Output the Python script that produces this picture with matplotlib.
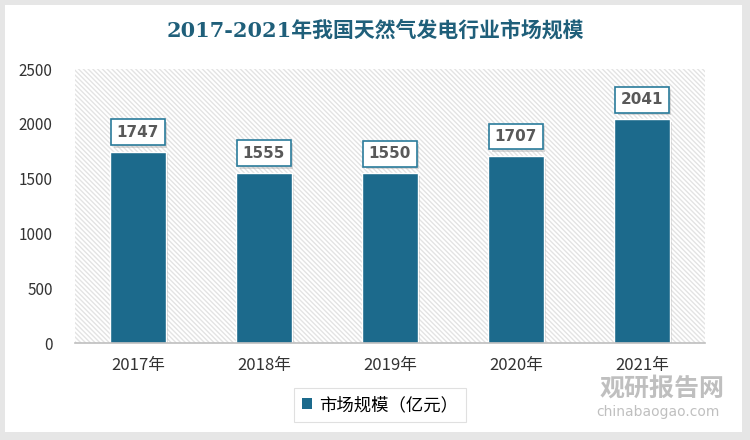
import matplotlib
matplotlib.use('Agg')
import matplotlib.pyplot as plt
import matplotlib.patheffects as pe
from matplotlib.patches import Rectangle

plt.rcParams['font.family'] = ['Noto Sans CJK SC', 'DejaVu Sans']
plt.rcParams['hatch.linewidth'] = 1.0

years = ['2017年', '2018年', '2019年', '2020年', '2021年']
values = [1747, 1555, 1550, 1707, 2041]
series_name = '市场规模（亿元）'
title = '2017-2021年我国天然气发电行业市场规模'

bar_color = '#1c6a8c'
shadow = [pe.SimplePatchShadow(offset=(2, -2), shadow_rgbFace='#999999', alpha=0.35),
          pe.Normal()]

fig = plt.figure(figsize=(7.5, 4.4), dpi=100)
fig.patch.set_facecolor('#e6e6e6')
# white card inside the grey frame
fig.add_artist(Rectangle((5 / 750, 8 / 440), 737 / 750, 427 / 440,
                         transform=fig.transFigure, facecolor='white',
                         edgecolor='none', zorder=0))

ax = fig.add_axes([75 / 750, (440 - 343) / 440, 630 / 750, 274 / 440])
ax.set_facecolor('white')
ax.add_patch(Rectangle((0, 0), 1, 1, transform=ax.transAxes, facecolor='white',
                       edgecolor='#e3e3e3', linewidth=0, hatch='\\' * 7,
                       zorder=0))

x = range(len(years))
bars = ax.bar(x, values, width=0.44, color=bar_color, edgecolor='white',
              linewidth=1.0, zorder=2)
for b in bars:
    b.set_path_effects(shadow)

for xi, v in zip(x, values):
    t = ax.annotate(str(v), (xi, v), xytext=(0, 14), textcoords='offset points',
                    ha='center', va='center', fontsize=11, fontweight='bold',
                    color='#595959', family=['DejaVu Sans'],
                    bbox=dict(boxstyle='square,pad=0.35', facecolor='white',
                              edgecolor='#2a7b9b', linewidth=1.2), zorder=3)
    t.get_bbox_patch().set_path_effects(shadow)

ax.set_xlim(-0.5, len(years) - 0.5)
ax.set_ylim(0, 2500)
ax.set_yticks([0, 500, 1000, 1500, 2000, 2500])
ax.set_xticks(list(x))
ax.set_xticklabels(years)
ax.tick_params(axis='both', length=0, labelsize=11, colors='#333333')
ax.tick_params(axis='x', pad=10, labelsize=12)
ax.tick_params(axis='y', pad=16)
for s in ['top', 'right', 'left']:
    ax.spines[s].set_visible(False)
ax.spines['bottom'].set_color('#bfbfbf')
ax.spines['bottom'].set_linewidth(1.2)

fig.text(0.5, 1 - 30 / 440, title, ha='center', va='center', fontsize=15,
         fontweight='bold', color='#1f5f7a',
         family=['DejaVu Serif', 'Noto Sans CJK SC'])

handle = Rectangle((0, 0), 1, 1, facecolor=bar_color, edgecolor='none')
leg = fig.legend(handles=[handle], labels=[series_name], loc='center',
                 bbox_to_anchor=(380 / 750, 1 - 405 / 440), fontsize=12.5,
                 frameon=True, fancybox=False, edgecolor='#d9d9d9',
                 handlelength=0.6, handleheight=0.6, handletextpad=0.4,
                 borderpad=0.45)
leg.get_frame().set_linewidth(0.8)

# watermark
fig.text(600 / 750, 1 - 389 / 440, '观研报告网', ha='left', va='center',
         fontsize=18, fontweight='bold', color='#b0b0b0', alpha=0.8)
fig.text(596 / 750, 1 - 412 / 440, 'chinabaogao.com', ha='left', va='center',
         fontsize=10, color='#b0b0b0', alpha=0.8, family=['DejaVu Sans'])

fig.savefig('out.png', dpi=100, facecolor=fig.get_facecolor())
